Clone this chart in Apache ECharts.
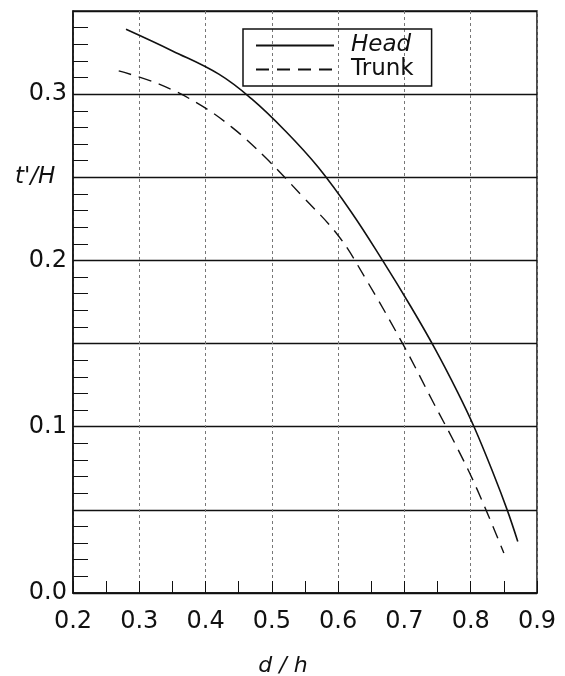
<!DOCTYPE html>
<html>
<head>
<meta charset="utf-8">
<script src="https://cdn.jsdelivr.net/npm/echarts@6/dist/echarts.min.js"></script>
<style>
  html, body { margin: 0; padding: 0; background: #fff; }
  #chart { width: 565px; height: 676px; }
</style>
</head>
<body>
<div id="chart"></div>
<script>
// Relative thickness t'/H against relative depth d/h
const headX  = [0.280, 0.350, 0.420, 0.470, 0.520, 0.570, 0.620, 0.667, 0.710, 0.746, 0.780, 0.805, 0.835, 0.855, 0.871];
const headY  = [0.339, 0.326, 0.312, 0.297, 0.278, 0.256, 0.229, 0.200, 0.172, 0.147, 0.121, 0.100, 0.071, 0.050, 0.031];
const trunkX = [0.269, 0.330, 0.390, 0.440, 0.490, 0.545, 0.600, 0.640, 0.700, 0.743, 0.780, 0.810, 0.850];
const trunkY = [0.314, 0.306, 0.294, 0.280, 0.262, 0.239, 0.215, 0.190, 0.148, 0.115, 0.087, 0.062, 0.024];

const xTicks = [0.2, 0.3, 0.4, 0.5, 0.6, 0.7, 0.8, 0.9];
const yTicks = [0.0, 0.1, 0.2, 0.3];

const FONT = 'DejaVu Sans';
const INK = '#111';

const pairs = (xs, ys) => xs.map((x, i) => [x, ys[i]]);

const chart = echarts.init(document.getElementById('chart'));
chart.setOption({
  backgroundColor: '#fff',
  animation: false,
  grid: {
    left: 73, right: 28, top: 11, bottom: 83,
    outerBoundsMode: 'none', containLabel: false,
    show: true, borderColor: INK, borderWidth: 1.5
  },
  legend: {
    left: 243, top: 29, orient: 'vertical',
    data: ['Head', 'Trunk'],
    itemWidth: 78, itemHeight: 14, itemGap: 1,
    padding: [5, 18, 5, 12],
    borderColor: INK, borderWidth: 1.5,
    itemStyle: { opacity: 0 },
    formatter: name => name === 'Head' ? '{i|Head}' : '{n|Trunk}',
    textStyle: {
      color: INK, fontFamily: FONT, fontSize: 23, lineHeight: 22,
      padding: [0, 0, 0, 12],
      rich: {
        i: { fontFamily: FONT, fontSize: 23, fontStyle: 'italic', color: INK, lineHeight: 22 },
        n: { fontFamily: FONT, fontSize: 23, color: INK, lineHeight: 22 }
      }
    }
  },
  xAxis: {
    type: 'value', min: 0.2, max: 0.9, interval: 0.1,
    name: 'd / h', nameLocation: 'middle', nameGap: 62,
    nameTextStyle: { fontFamily: FONT, fontSize: 22, fontStyle: 'italic', color: INK, padding: [0, 44, 0, 0] },
    axisLine: { lineStyle: { color: INK, width: 1.5 } },
    axisTick: { show: true, inside: true, length: 12, lineStyle: { color: INK, width: 1 } },
    minorTick: { show: true, splitNumber: 2, length: 12, lineStyle: { color: INK, width: 1 } },
    splitLine: { show: true, lineStyle: { color: '#777', width: 1, type: [3, 3] } },
    axisLabel: {
      margin: 17, showMinLabel: true, showMaxLabel: true,
      fontFamily: FONT, fontSize: 24, color: INK,
      formatter: v => {
        const t = xTicks.find(k => Math.abs(k - v) < 1e-6);
        return t === undefined ? '' : t.toFixed(1);
      }
    }
  },
  yAxis: {
    type: 'value', min: 0, max: 0.35, interval: 0.05,
    axisLine: { show: true, lineStyle: { color: INK, width: 1.5 } },
    axisTick: { show: true, inside: true, length: 15, lineStyle: { color: INK, width: 1 } },
    minorTick: { show: true, splitNumber: 5, length: 15, lineStyle: { color: INK, width: 1 } },
    splitLine: { show: true, lineStyle: { color: INK, width: 1.3 } },
    axisLabel: {
      margin: 6, showMaxLabel: true,
      fontFamily: FONT, fontSize: 24, color: INK,
      formatter: v => {
        const t = yTicks.find(k => Math.abs(k - v) < 1e-6);
        return t === undefined ? '' : t.toFixed(1);
      }
    }
  },
  graphic: [{
    type: 'text', left: 15, top: 166,
    style: { text: "t'/H", fontFamily: FONT, fontSize: 23, fontStyle: 'italic', fill: INK }
  }],
  series: [
    {
      name: 'Head', type: 'line', smooth: 0.4, symbol: 'none',
      data: pairs(headX, headY),
      lineStyle: { color: INK, width: 1.6, type: 'solid' },
      itemStyle: { color: INK }
    },
    {
      name: 'Trunk', type: 'line', smooth: 0.4, symbol: 'none',
      data: pairs(trunkX, trunkY),
      lineStyle: { color: INK, width: 1.4, type: [13, 8] },
      itemStyle: { color: INK }
    }
  ]
});
</script>
</body>
</html>
